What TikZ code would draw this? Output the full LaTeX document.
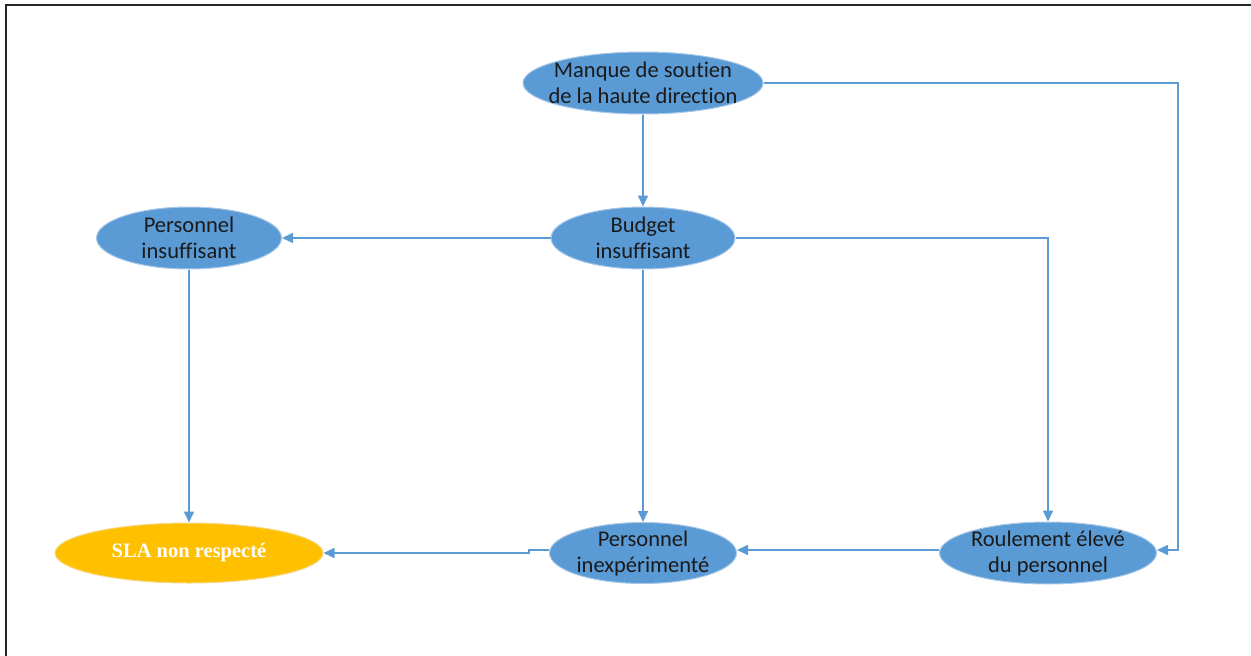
\documentclass[tikz,border=0pt]{standalone}
\usepackage{fontspec}
\setmainfont{Carlito}[Ligatures=NoCommon]
\newfontfamily\slafont{Liberation Serif}
\usetikzlibrary{arrows.meta,shapes.geometric,calc}
\definecolor{nodeblue}{HTML}{5B9BD5}
\definecolor{rimblue}{HTML}{A9C8E8}
\definecolor{slagold}{HTML}{FFC000}
\definecolor{slarim}{HTML}{F5D98A}
\definecolor{textdark}{HTML}{1A1A1A}
\begin{document}
\begin{tikzpicture}[x=1pt,y=-1pt,
  cause/.style={ellipse, fill=nodeblue, draw=rimblue, line width=1pt,
    inner xsep=-14pt, inner ysep=-10pt, align=center, text=textdark,
    font=\fontsize{22.5}{26}\selectfont},
  outcome/.style={ellipse, fill=slagold, draw=slarim, line width=1pt,
    inner sep=-10pt, align=center, text=white,
    font=\slafont\bfseries\fontsize{20.5}{24}\selectfont},
  link/.style={draw=nodeblue, line width=1.6pt,
    -{Triangle[length=11pt,width=10pt]}},
  frameline/.style={draw=black!85, line width=1.5pt}]
\useasboundingbox (0,0) rectangle (1251,656);
% outer frame (top and left edges)
\draw[frameline] (6,656) -- (6,5) -- (1251,5);

% nodes
\node[cause, minimum width=240pt, minimum height=62pt] (mgmt) at (643,83)
  {Manque de soutien\\de la haute direction};
\node[cause, minimum width=184pt, minimum height=62pt] (budget) at (643,238)
  {Budget\\insuffisant};
\node[cause, minimum width=185pt, minimum height=62pt] (staff) at (189,238)
  {Personnel\\insuffisant};
\node[outcome, minimum width=268pt, minimum height=60pt] (sla) at (189,553)
  {SLA non respecté};
\node[cause, minimum width=187pt, minimum height=61pt] (junior) at (643,553)
  {Personnel\\inexpérimenté};
\node[cause, minimum width=217pt, minimum height=62pt] (turnover) at (1048,553)
  {Roulement élevé\\du personnel};

% connectors
\draw[link] (mgmt.south) -- (budget.north);
\draw[link] (mgmt.east) -- (1178,83) -- (1178,550) -- ($(turnover.east)+(0,-3)$);
\draw[link] (budget.west) -- (staff.east);
\draw[link] (budget.east) -- (1048,238) -- (turnover.north);
\draw[link] (budget.south) -- (junior.north);
\draw[link] (staff.south) -- (sla.north);
\draw[link] ($(turnover.west)+(0,-3)$) -- ($(junior.east)+(0,-3)$);
\draw[link] ($(junior.west)+(0,-3)$) -- (529,550) -- (529,553) -- (sla.east);
\end{tikzpicture}
\end{document}
